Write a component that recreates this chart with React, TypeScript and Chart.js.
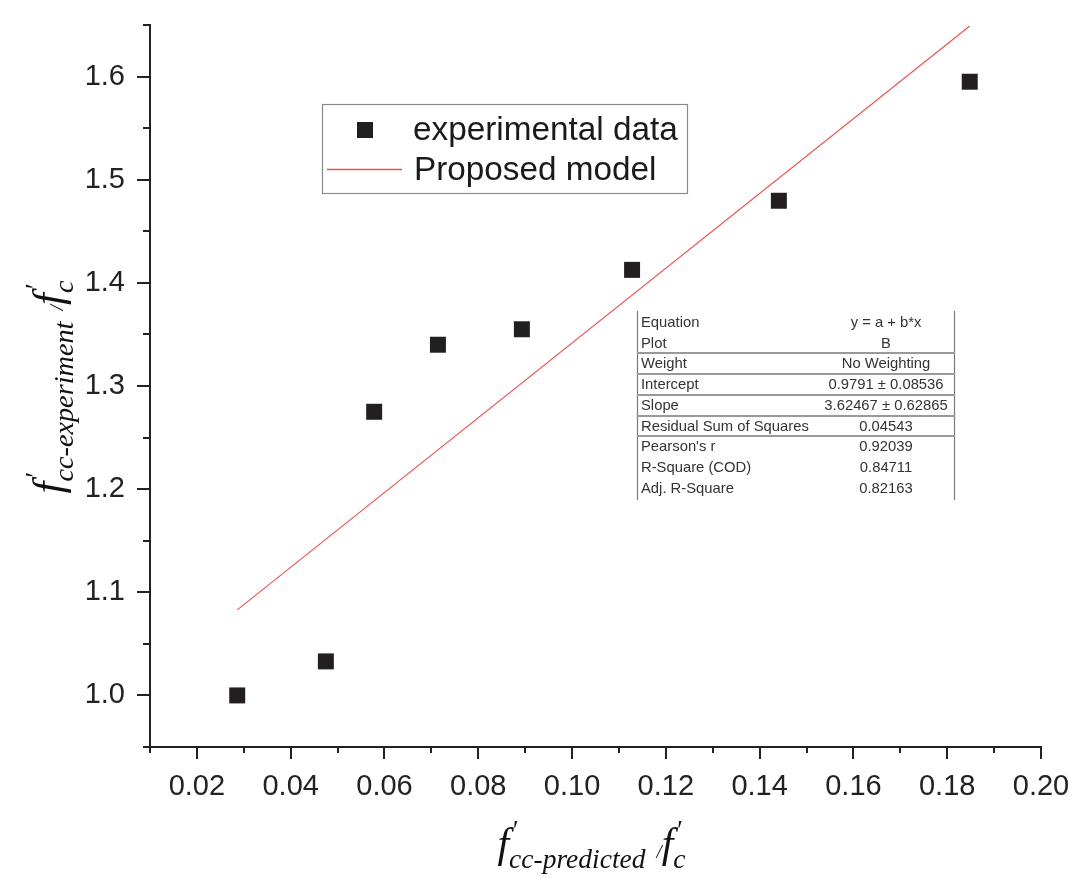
import React, { useEffect, useRef } from "react";
import { Chart, registerables } from "chart.js";

Chart.register(...registerables);

// ---- data ----
const EXP_X = [0.0286, 0.0475, 0.0578, 0.0714, 0.0893, 0.1128, 0.1441, 0.1848];
const EXP_Y = [1.0, 1.033, 1.275, 1.34, 1.355, 1.4126, 1.4796, 1.595];
const MODEL_X = [0.0286, 0.1848];
const MODEL_Y = [1.083, 1.649];
const SERIES_LABELS = ["experimental data", "Proposed model"];

const X_TICKS = [0.02, 0.04, 0.06, 0.08, 0.1, 0.12, 0.14, 0.16, 0.18, 0.2];
const X_MINOR = [0.01, 0.03, 0.05, 0.07, 0.09, 0.11, 0.13, 0.15, 0.17, 0.19];
const Y_TICKS = [1.0, 1.1, 1.2, 1.3, 1.4, 1.5, 1.6];
const Y_MINOR = [0.95, 1.05, 1.15, 1.25, 1.35, 1.45, 1.55, 1.65];

const TABLE_LABELS = [
  "Equation",
  "Plot",
  "Weight",
  "Intercept",
  "Slope",
  "Residual Sum of Squares",
  "Pearson's r",
  "R-Square (COD)",
  "Adj. R-Square",
];
const TABLE_VALUES = [
  "y = a + b*x",
  "B",
  "No Weighting",
  "0.9791 ± 0.08536",
  "3.62467 ± 0.62865",
  "0.04543",
  "0.92039",
  "0.84711",
  "0.82163",
];

const SANS = '"Liberation Sans", Arial, "DejaVu Sans", sans-serif';
const SERIF = '"Liberation Serif", "DejaVu Serif", serif';
const AXIS_COLOR = "#222222";
const MARK_COLOR = "#231f20";
const LINE_COLOR = "#e8504b";

type Seg = { t: string; size: number; dy: number; noAdv?: boolean; dx?: number };

function drawRich(ctx: CanvasRenderingContext2D, segs: Seg[]) {
  let w = 0;
  const widths: number[] = [];
  for (const s of segs) {
    ctx.font = `italic ${s.size}px ${SERIF}`;
    const m = ctx.measureText(s.t).width;
    widths.push(m);
    if (!s.noAdv) w += m;
  }
  let x = -w / 2;
  segs.forEach((s, i) => {
    ctx.font = `italic ${s.size}px ${SERIF}`;
    ctx.fillText(s.t, x + (s.dx || 0), s.dy);
    if (!s.noAdv) x += widths[i];
  });
}

function titleSegs(sub: string, k: number): Seg[] {
  return [
    { t: "f", size: 38 * k, dy: 0 },
    { t: "′", size: 24 * k, dy: -16 * k, noAdv: true, dx: 2 * k },
    { t: sub, size: 25 * k, dy: 10 * k },
    { t: " ", size: 40 * k, dy: 0 },
    { t: "/", size: 17 * k, dy: 1 * k },
    { t: "f", size: 38 * k, dy: 0 },
    { t: "′", size: 24 * k, dy: -16 * k, noAdv: true, dx: 2 * k },
    { t: "c", size: 25 * k, dy: 10 * k },
  ];
}

const decorPlugin = {
  id: "decor",
  afterDraw(chart: any) {
    const ctx: CanvasRenderingContext2D = chart.ctx;
    const xs = chart.scales.x;
    const ys = chart.scales.y;
    const area = chart.chartArea;

    // tick marks
    ctx.save();
    ctx.strokeStyle = AXIS_COLOR;
    ctx.lineWidth = 2;
    ctx.beginPath();
    for (const v of X_TICKS) {
      const px = Math.round(xs.getPixelForValue(v));
      ctx.moveTo(px, area.bottom);
      ctx.lineTo(px, area.bottom + 12);
    }
    for (const v of X_MINOR) {
      const px = Math.round(xs.getPixelForValue(v));
      ctx.moveTo(px, area.bottom);
      ctx.lineTo(px, area.bottom + 6);
    }
    for (const v of Y_TICKS) {
      const py = Math.round(ys.getPixelForValue(v));
      ctx.moveTo(area.left, py);
      ctx.lineTo(area.left - 13, py);
    }
    for (const v of Y_MINOR) {
      const py = Math.round(ys.getPixelForValue(v));
      ctx.moveTo(area.left, py);
      ctx.lineTo(area.left - 7, py);
    }
    ctx.stroke();
    ctx.restore();

    // axis titles
    ctx.save();
    ctx.fillStyle = "#111";
    ctx.textBaseline = "alphabetic";
    ctx.textAlign = "left";
    ctx.translate((area.left + area.right) / 2 - 4, 857);
    drawRich(ctx, titleSegs("cc-predicted", 1.1));
    ctx.restore();

    ctx.save();
    ctx.fillStyle = "#111";
    ctx.textBaseline = "alphabetic";
    ctx.textAlign = "left";
    ctx.translate(62, 387);
    ctx.rotate(-Math.PI / 2);
    drawRich(ctx, titleSegs("cc-experiment", 1.13));
    ctx.restore();

    // legend
    ctx.save();
    ctx.strokeStyle = "#8a8a8a";
    ctx.lineWidth = 1.2;
    ctx.strokeRect(322.5, 104.5, 365, 89);
    const ds = chart.data.datasets;
    ctx.fillStyle = ds[0].backgroundColor;
    ctx.fillRect(357, 122, 16, 16);
    ctx.strokeStyle = ds[1].borderColor;
    ctx.lineWidth = 1.3;
    ctx.beginPath();
    ctx.moveTo(327, 169.5);
    ctx.lineTo(402, 169.5);
    ctx.stroke();
    ctx.fillStyle = "#1a1a1a";
    ctx.font = `33.3px ${SANS}`;
    ctx.textBaseline = "alphabetic";
    ctx.textAlign = "left";
    ctx.fillText(ds[0].label, 413, 140);
    ctx.fillText(ds[1].label, 414, 180);
    ctx.restore();

    // fit table
    ctx.save();
    const tl = 637, tr = 954, top = 311, rowH = 20.7, first = 327;
    ctx.strokeStyle = "#777";
    ctx.lineWidth = 1.2;
    ctx.beginPath();
    ctx.moveTo(tl + 0.5, top);
    ctx.lineTo(tl + 0.5, 500);
    ctx.moveTo(tr + 0.5, top);
    ctx.lineTo(tr + 0.5, 500);
    ctx.stroke();
    ctx.strokeStyle = "#999";
    ctx.lineWidth = 2;
    ctx.beginPath();
    for (let i = 2; i <= 6; i++) {
      const ly = Math.round(first + rowH * i - 15);
      ctx.moveTo(tl, ly);
      ctx.lineTo(tr + 1, ly);
    }
    ctx.stroke();
    ctx.fillStyle = "#333";
    ctx.font = `14.8px ${SANS}`;
    ctx.textBaseline = "alphabetic";
    TABLE_LABELS.forEach((lab, i) => {
      const by = first + rowH * i;
      ctx.textAlign = "left";
      ctx.fillText(lab, 641, by);
      ctx.textAlign = "center";
      ctx.fillText(TABLE_VALUES[i], 886, by);
    });
    ctx.restore();
  },
};

function zeroPad(s: any) {
  s.paddingLeft = 0;
  s.paddingRight = 0;
  s.paddingTop = 0;
  s.paddingBottom = 0;
}

export default function App() {
  const ref = useRef<HTMLCanvasElement | null>(null);

  useEffect(() => {
    if (!ref.current) return;
    const chart = new Chart(ref.current, {
      type: "scatter",
      data: {
        datasets: [
          {
            label: SERIES_LABELS[0],
            data: EXP_X.map((x, i) => ({ x, y: EXP_Y[i] })),
            pointStyle: "rect",
            pointRadius: 11.3,
            backgroundColor: MARK_COLOR,
            borderColor: MARK_COLOR,
            borderWidth: 0,
            showLine: false,
            order: 1,
          },
          {
            label: SERIES_LABELS[1],
            data: MODEL_X.map((x, i) => ({ x, y: MODEL_Y[i] })),
            showLine: true,
            pointRadius: 0,
            borderColor: LINE_COLOR,
            backgroundColor: LINE_COLOR,
            borderWidth: 1.1,
            order: 2,
          },
        ],
      },
      options: {
        responsive: false,
        animation: false,
        events: [],
        layout: { padding: { left: 0, top: 25, right: 37, bottom: 0 } },
        plugins: {
          legend: { display: false },
          tooltip: { enabled: false },
          title: { display: false },
        },
        scales: {
          x: {
            type: "linear",
            min: 0.01,
            max: 0.2,
            afterBuildTicks: (s: any) => {
              s.ticks = X_TICKS.map((value) => ({ value }));
            },
            afterFit: (s: any) => {
              s.height = 135;
              zeroPad(s);
            },
            grid: { display: true, drawOnChartArea: false, drawTicks: false, tickLength: 0 },
            border: { display: true, color: AXIS_COLOR, width: 2 },
            ticks: {
              padding: 23,
              color: AXIS_COLOR,
              font: { family: SANS, size: 29 },
              maxRotation: 0,
              autoSkip: false,
              callback: (v: any) => Number(v).toFixed(2),
            },
          },
          y: {
            type: "linear",
            min: 0.95,
            max: 1.65,
            afterBuildTicks: (s: any) => {
              s.ticks = Y_TICKS.map((value) => ({ value }));
            },
            afterFit: (s: any) => {
              s.width = 150;
              zeroPad(s);
            },
            grid: { display: true, drawOnChartArea: false, drawTicks: false, tickLength: 0 },
            border: { display: true, color: AXIS_COLOR, width: 2 },
            ticks: {
              padding: 25,
              color: AXIS_COLOR,
              font: { family: SANS, size: 29 },
              autoSkip: false,
              callback: (v: any) => Number(v).toFixed(1),
            },
          },
        },
      },
      plugins: [decorPlugin],
    });
    return () => chart.destroy();
  }, []);

  return (
    <div style={{ position: "fixed", left: 0, top: 0, width: 1078, height: 882, background: "#fff" }}>
      <canvas ref={ref} width={1078} height={882} style={{ display: "block" }} />
    </div>
  );
}
